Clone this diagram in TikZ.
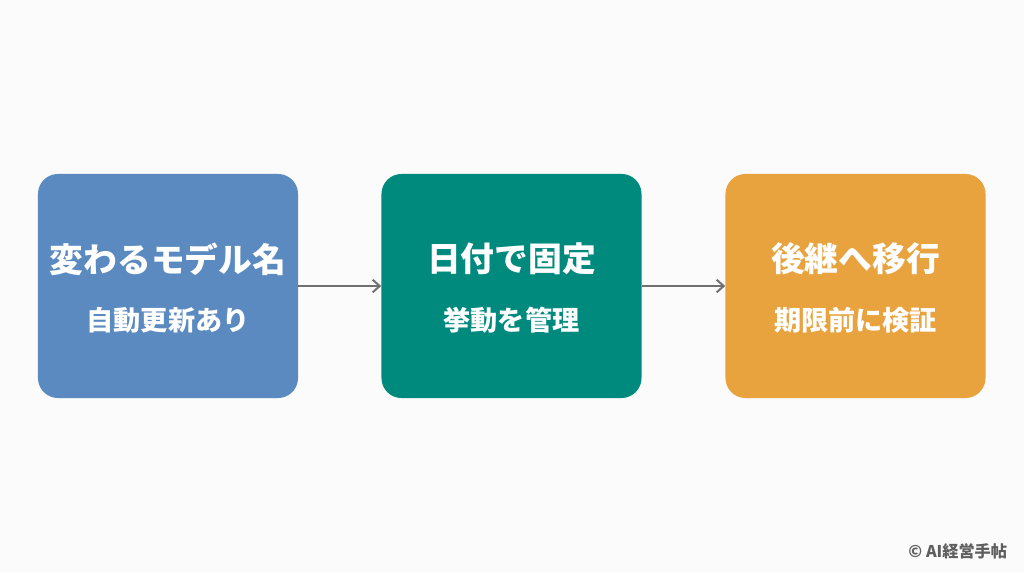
\documentclass[tikz,border=0pt]{standalone}
\usepackage{fontspec}
\newfontfamily\cjk{Noto Sans CJK JP}
\usetikzlibrary{positioning}

\definecolor{boxblue}{HTML}{5A8AC0}
\definecolor{boxteal}{HTML}{008A7E}
\definecolor{boxorange}{HTML}{E8A23E}
\definecolor{arrowgray}{HTML}{707070}
\definecolor{bgpaper}{HTML}{FBFBFB}

\tikzset{
    stage/.style={rounded corners=0.5cm, minimum width=6.5cm, minimum height=5.6cm,
        inner sep=0pt},
    titletext/.style={text=white, font=\cjk\bfseries\fontsize{24}{26}\selectfont},
    subtext/.style={text=white, font=\cjk\bfseries\fontsize{19.3}{21}\selectfont},
    flow/.style={->, arrowgray, line width=1.4pt, >={Straight Barb[length=5pt,width=9pt]}}
}
\usetikzlibrary{arrows.meta}

\begin{document}
\begin{tikzpicture}[x=0.025cm, y=-0.025cm]
    \fill[bgpaper] (0,0) rectangle (1024,572);
    \useasboundingbox (0,0) rectangle (1024,572);

    % Boites
    \node[stage, fill=boxblue] (change) at (168, 286) {};
    \node[stage, fill=boxteal] (fix) at (511.5, 286) {};
    \node[stage, fill=boxorange] (move) at (855.5, 286) {};

    % Textes
    \node[titletext] (changeT) at (168, 259) {変わるモデル名};
    \node[subtext] (changeS) at (168, 320) {自動更新あり};
    \node[titletext] (fixT) at (511.5, 259) {日付で固定};
    \node[subtext] (fixS) at (511.5, 320) {挙動を管理};
    \node[titletext] (moveT) at (855.5, 259) {後継へ移行};
    \node[subtext] (moveS) at (855.5, 320) {期限前に検証};

    % Fleches
    \draw[flow] (change) -- (fix);
    \draw[flow] (fix) -- (move);

    \node[anchor=east, text=arrowgray!85!black, font=\cjk\bfseries\fontsize{11.5}{13}\selectfont]
        (credit) at (1012, 551) {© AI経営手帖};
\end{tikzpicture}
\end{document}
